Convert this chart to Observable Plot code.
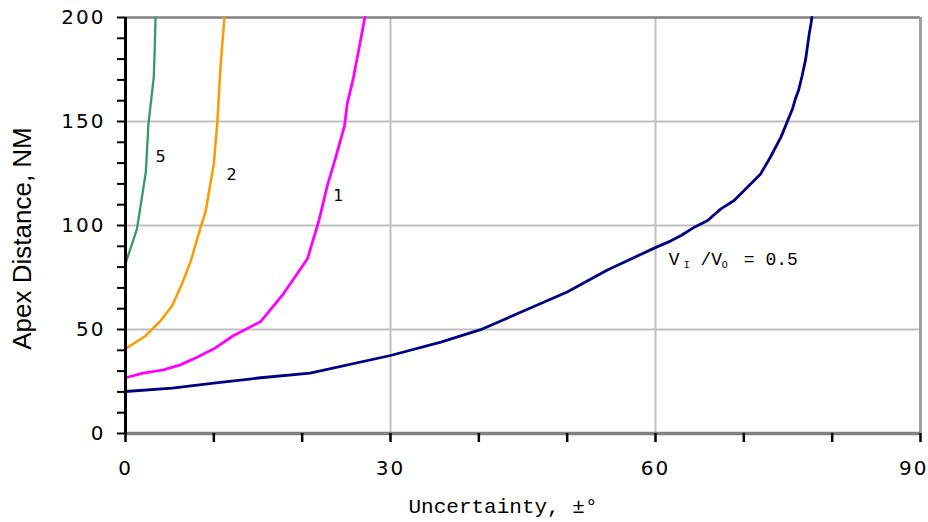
<!DOCTYPE html>
<html><head><meta charset="utf-8">
<script src="https://cdn.jsdelivr.net/npm/d3@7"></script>
<script src="https://cdn.jsdelivr.net/npm/@observablehq/plot@0.6"></script>
<style>body{margin:0;background:#fff}</style>
</head><body><div id="chart"></div>
<script>
// Velocity ratio 0.5 (navy)
const unc05 = [0, 5.3, 10, 15.3, 20.9, 30, 35.7, 40.2, 50, 54.5, 60.1, 61.7, 62.9, 64.4, 65.9, 67.4, 68.9, 70.4, 71.9, 73, 74.2, 74.9, 75.5, 75.9, 76.2, 76.6, 77.0, 77.2, 77.4, 77.6, 77.7];
const apex05 = [20.2, 21.8, 24.2, 26.8, 29, 37.5, 43.9, 49.9, 68, 78.5, 89.6, 92.5, 95.2, 99.2, 102.4, 108, 112, 118.4, 124.8, 132.8, 142.5, 149.7, 156, 161.7, 165, 172, 180, 186, 192, 197, 200];
// ratio 1 (magenta)
const unc1 = [0, 2, 4.3, 6.2, 8.1, 10, 12.2, 15.3, 17.9, 20.6, 21.9, 22.8, 23.8, 24.8, 25.1, 25.8, 27.1];
const apex1 = [26.8, 29, 30.6, 33, 36.7, 40.7, 47, 53.8, 67.3, 84, 102.4, 118.4, 132.8, 148, 158.5, 171, 200];
// ratio 2 (orange)
const unc2 = [0, 2.3, 4, 5.3, 6.4, 7.4, 8.5, 9.05, 10, 10.4, 10.75, 11.2];
const apex2 = [40.7, 47, 54.3, 61.5, 72, 83, 99.2, 106.4, 129.7, 149.7, 176, 200];
// ratio 5 (green)
const unc5 = [0, 1.3, 2.3, 2.6, 3.2, 3.3, 3.4];
const apex5 = [81.7, 98.4, 125.6, 149, 171.3, 184, 200];

const seriesNames = ["0.5", "1", "2", "5"];
const seriesColors = ["#000080", "#ff00ff", "#ff9900", "#339966"];
const seriesWidths = [2.8, 2.8, 2.5, 2.3];
const seriesX = [unc05, unc1, unc2, unc5];
const seriesY = [apex05, apex1, apex2, apex5];

const yTickLabels = [0, 50, 100, 150, 200];
const xTickLabels = [0, 30, 60, 90];
const curveLabels = [
  {u: 3.96, d: 133.2, t: "5"},
  {u: 12.0, d: 124.5, t: "2"},
  {u: 24.1, d: 114.4, t: "1"}
];
const ratioMain = [
  {u: 61.5, d: 83.7, t: "V"},
  {u: 65.1, d: 83.7, t: "/V"},
  {u: 70.0, d: 83.7, t: "= 0.5"}
];
const ratioSub = [
  {u: 63.2, d: 81.0, t: "I"},
  {u: 67.5, d: 81.0, t: "O"}
];

const lineMarks = seriesNames.map((name, i) =>
  Plot.line(seriesX[i].map((u, j) => ({u, d: seriesY[i][j]})), {
    x: "u", y: "d", stroke: seriesColors[i], strokeWidth: seriesWidths[i], strokeLinejoin: "round"
  })
);

const chart = Plot.plot({
  width: 928, height: 522,
  marginLeft: 125, marginRight: 8, marginTop: 17, marginBottom: 89,
  x: {domain: [0, 90]},
  y: {domain: [0, 200]},
  style: {fontFamily: "DejaVu Sans", fontSize: "20px", color: "#000", background: "#fff", overflow: "visible"},
  marks: [
    Plot.gridX([30, 60], {stroke: "#c0c0c0", strokeWidth: 2, strokeOpacity: 1}),
    Plot.gridY([50, 100, 150], {stroke: "#c0c0c0", strokeWidth: 2, strokeOpacity: 1}),
    Plot.ruleY([200], {stroke: "#808080", strokeWidth: 2.5}),
    Plot.ruleX([90], {stroke: "#a0a0a0", strokeWidth: 3}),
    ...lineMarks,
    Plot.ruleY([0], {stroke: "#808080", strokeWidth: 3.5}),
    Plot.ruleX([0], {stroke: "#000", strokeWidth: 3}),
    Plot.axisY(d3.range(0, 201, 10), {tickSize: 8, tickFormat: () => "", strokeWidth: 2, stroke: "#000", label: null}),
    Plot.axisY(yTickLabels, {tickSize: 0, tickPadding: 20, fontSize: 20, label: null}),
    Plot.axisX(d3.range(0, 91, 10), {tickSize: 9, tickFormat: () => "", strokeWidth: 2.5, stroke: "#000", label: null}),
    Plot.axisX(xTickLabels.slice(0, 3), {tickSize: 0, tickPadding: 27, fontSize: 20, label: null}),
    Plot.axisX(xTickLabels.slice(3), {tickSize: 0, tickPadding: 27, fontSize: 20, textAnchor: "end", dx: 8, label: null}),
    Plot.text(["Apex Distance, NM"], {frameAnchor: "left", rotate: -90, textAnchor: "middle", lineAnchor: "middle", dx: -103, dy: 13, fontFamily: "Liberation Sans", fontSize: 26}),
    Plot.text(["Uncertainty, \u00b1\u00b0"], {frameAnchor: "bottom", textAnchor: "middle", lineAnchor: "middle", dy: 73, dx: -20, fontFamily: "Liberation Mono", fontSize: 21}),
    Plot.text(curveLabels, {x: "u", y: "d", text: "t", fontFamily: "DejaVu Sans", fontSize: 16}),
    Plot.text(ratioMain, {x: "u", y: "d", text: "t", textAnchor: "start", fontFamily: "Liberation Mono", fontSize: 18}),
    Plot.text(ratioSub, {x: "u", y: "d", text: "t", textAnchor: "start", fontFamily: "Liberation Mono", fontSize: 10})
  ]
});

d3.select(chart).selectAll('[aria-label$="tick label"]').style("letter-spacing", "2px");
document.getElementById("chart").append(chart);
</script>
</body></html>
